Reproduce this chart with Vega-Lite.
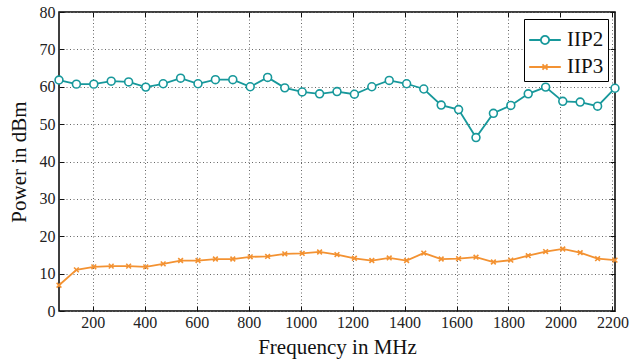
{
  "$schema": "https://vega.github.io/schema/vega-lite/v6.json",
  "width": 556,
  "height": 299,
  "autosize": "none",
  "padding": {"left": 59, "top": 12, "right": 23, "bottom": 52},
  "background": "white",
  "config": {
    "font": "Liberation Serif",
    "view": {"stroke": "black", "strokeWidth": 1.5},
    "axis": {
      "labelFont": "Liberation Serif",
      "titleFont": "Liberation Serif",
      "labelFontSize": 16,
      "titleFontSize": 21,
      "titleFontWeight": "normal",
      "labelColor": "#222",
      "titleColor": "#111",
      "tickColor": "#111",
      "tickSize": -5,
      "tickWidth": 1,
      "domainColor": "black",
      "domainWidth": 1.5,
      "gridColor": "#666",
      "gridDash": [1, 2.5],
      "gridWidth": 1
    },
    "legend": {
      "labelFont": "Liberation Serif",
      "labelFontSize": 21,
      "labelColor": "#111"
    }
  },
  "data": {"values": [
    {"f":70,"s":"IIP2","v":61.8},{"f":137,"s":"IIP2","v":60.7},{"f":204,"s":"IIP2","v":60.7},{"f":271,"s":"IIP2","v":61.5},
    {"f":338,"s":"IIP2","v":61.3},{"f":404,"s":"IIP2","v":59.9},{"f":471,"s":"IIP2","v":60.8},{"f":538,"s":"IIP2","v":62.3},
    {"f":605,"s":"IIP2","v":60.8},{"f":672,"s":"IIP2","v":61.9},{"f":739,"s":"IIP2","v":61.9},{"f":806,"s":"IIP2","v":60.0},
    {"f":873,"s":"IIP2","v":62.5},{"f":939,"s":"IIP2","v":59.7},{"f":1006,"s":"IIP2","v":58.6},{"f":1073,"s":"IIP2","v":58.1},
    {"f":1140,"s":"IIP2","v":58.7},{"f":1207,"s":"IIP2","v":58.0},{"f":1274,"s":"IIP2","v":60.0},{"f":1341,"s":"IIP2","v":61.7},
    {"f":1408,"s":"IIP2","v":60.8},{"f":1474,"s":"IIP2","v":59.4},{"f":1541,"s":"IIP2","v":55.1},{"f":1608,"s":"IIP2","v":53.9},
    {"f":1675,"s":"IIP2","v":46.4},{"f":1742,"s":"IIP2","v":52.9},{"f":1809,"s":"IIP2","v":55.0},{"f":1876,"s":"IIP2","v":58.1},
    {"f":1943,"s":"IIP2","v":59.9},{"f":2009,"s":"IIP2","v":56.1},{"f":2076,"s":"IIP2","v":55.9},{"f":2143,"s":"IIP2","v":54.8},
    {"f":2210,"s":"IIP2","v":59.6},
    {"f":70,"s":"IIP3","v":6.9},{"f":137,"s":"IIP3","v":11.0},{"f":204,"s":"IIP3","v":11.8},{"f":271,"s":"IIP3","v":12.0},
    {"f":338,"s":"IIP3","v":12.0},{"f":404,"s":"IIP3","v":11.8},{"f":471,"s":"IIP3","v":12.6},{"f":538,"s":"IIP3","v":13.5},
    {"f":605,"s":"IIP3","v":13.5},{"f":672,"s":"IIP3","v":13.9},{"f":739,"s":"IIP3","v":13.9},{"f":806,"s":"IIP3","v":14.5},
    {"f":873,"s":"IIP3","v":14.6},{"f":939,"s":"IIP3","v":15.3},{"f":1006,"s":"IIP3","v":15.4},{"f":1073,"s":"IIP3","v":15.8},
    {"f":1140,"s":"IIP3","v":15.1},{"f":1207,"s":"IIP3","v":14.1},{"f":1274,"s":"IIP3","v":13.5},{"f":1341,"s":"IIP3","v":14.2},
    {"f":1408,"s":"IIP3","v":13.5},{"f":1474,"s":"IIP3","v":15.5},{"f":1541,"s":"IIP3","v":13.9},{"f":1608,"s":"IIP3","v":14.0},
    {"f":1675,"s":"IIP3","v":14.4},{"f":1742,"s":"IIP3","v":13.1},{"f":1809,"s":"IIP3","v":13.6},{"f":1876,"s":"IIP3","v":14.8},
    {"f":1943,"s":"IIP3","v":15.9},{"f":2009,"s":"IIP3","v":16.6},{"f":2076,"s":"IIP3","v":15.6},{"f":2143,"s":"IIP3","v":14.0},
    {"f":2210,"s":"IIP3","v":13.6}
  ]},
  "resolve": {"axis": {"x": "independent", "y": "independent"}},
  "layer": [
    {
      "encoding": {
        "x": {"field": "f", "type": "quantitative", "scale": {"domain": [70, 2210], "nice": false, "zero": false},
              "axis": {"title": "Frequency in MHz", "format": "d", "values": [200,400,600,800,1000,1200,1400,1600,1800,2000,2200], "labelPadding": 8, "titlePadding": 6, "domain": false}},
        "y": {"field": "v", "type": "quantitative", "scale": {"domain": [0, 80], "nice": false},
              "axis": {"title": "Power in dBm", "values": [0,10,20,30,40,50,60,70,80], "labelPadding": 9, "titlePadding": 10, "domain": false}}
      },
      "layer": [
        {
          "mark": {"type": "line", "strokeWidth": 1.8},
          "encoding": {
            "stroke": {"field": "s", "type": "nominal", "scale": {"range": ["#17989b", "#f39232"]},
              "legend": {
                "title": null,
                "orient": "top-right",
                "offset": 7,
                "strokeColor": "black",
                "fillColor": "white",
                "padding": 4,
                "rowPadding": -12,
                "labelOffset": 5,
                "symbolStrokeWidth": 1.8,
                "symbolSize": 1000,
                "encoding": {
                  "symbols": {
                    "shape": {"condition": {"test": "datum.value === 'IIP2'", "value": "M-1,0L-0.26,0M0.26,0L1,0M-0.26,0A0.26,0.26,0,1,0,0.26,0A0.26,0.26,0,1,0,-0.26,0"}, "value": "M-1,0L1,0M-0.16,-0.16L0.16,0.16M-0.16,0.16L0.16,-0.16"},
                    "fill": {"value": "white"},
                    "strokeWidth": {"value": 1.8}
                  }
                }
              }}
          }
        },
        {
          "mark": {"type": "point", "fill": "white", "fillOpacity": 1, "opacity": 1, "strokeWidth": 1.6, "size": 62, "clip": false},
          "encoding": {
            "stroke": {"field": "s", "type": "nominal", "scale": {"range": ["#17989b", "#f39232"]},
              "legend": {
                "title": null,
                "orient": "top-right",
                "offset": 7,
                "strokeColor": "black",
                "fillColor": "white",
                "padding": 4,
                "rowPadding": -12,
                "labelOffset": 5,
                "symbolStrokeWidth": 1.8,
                "symbolSize": 1000,
                "encoding": {
                  "symbols": {
                    "shape": {"condition": {"test": "datum.value === 'IIP2'", "value": "M-1,0L-0.26,0M0.26,0L1,0M-0.26,0A0.26,0.26,0,1,0,0.26,0A0.26,0.26,0,1,0,-0.26,0"}, "value": "M-1,0L1,0M-0.16,-0.16L0.16,0.16M-0.16,0.16L0.16,-0.16"},
                    "fill": {"value": "white"},
                    "strokeWidth": {"value": 1.8}
                  }
                }
              }},
            "shape": {"field": "s", "type": "nominal", "scale": {"domain": ["IIP2", "IIP3"], "range": ["circle", "M-0.6,-0.6L0.6,0.6M-0.6,0.6L0.6,-0.6"]}, "legend": null}
          }
        }
      ]
    },
    {
      "mark": {"type": "point", "opacity": 0},
      "encoding": {
        "x": {"field": "f", "type": "quantitative",
              "axis": {"orient": "top", "title": null, "labels": false, "grid": false, "domain": false, "values": [200,400,600,800,1000,1200,1400,1600,1800,2000,2200]}},
        "y": {"field": "v", "type": "quantitative",
              "axis": {"orient": "right", "title": null, "labels": false, "grid": false, "domain": false, "values": [0,10,20,30,40,50,60,70,80]}}
      }
    }
  ]
}
